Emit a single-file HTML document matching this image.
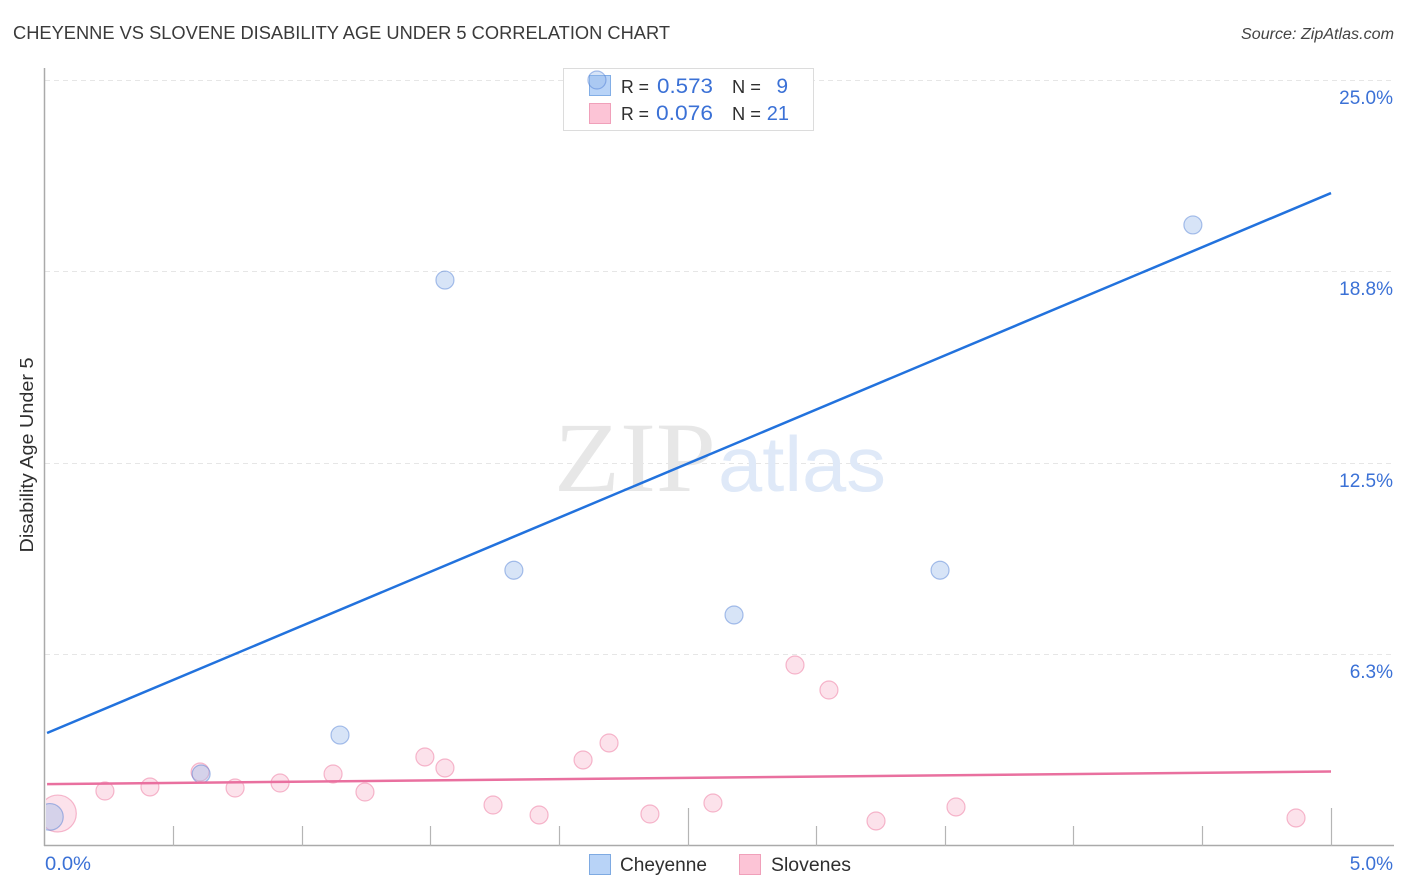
<!DOCTYPE html>
<html>
<head>
<meta charset="utf-8">
<style>
html,body{margin:0;padding:0;background:#fff;width:1406px;height:892px;overflow:hidden}
svg{display:block;font-family:"Liberation Sans",sans-serif}
</style>
</head>
<body>
<svg id="chart" width="1406" height="892" viewBox="0 0 1406 892" xmlns="http://www.w3.org/2000/svg">
  <defs><clipPath id="plot-clip"><rect x="46" y="60" width="1348" height="786"/></clipPath></defs>
  <text x="13" y="39" font-size="18" fill="#3a3a3a" textLength="657" lengthAdjust="spacingAndGlyphs">CHEYENNE VS SLOVENE DISABILITY AGE UNDER 5 CORRELATION CHART</text>
  <text x="1394" y="39" font-size="15.5" font-style="italic" fill="#444" text-anchor="end" textLength="153" lengthAdjust="spacingAndGlyphs">Source: ZipAtlas.com</text>
  <g id="grid"></g>
  <g>
    <text x="554" y="491" font-family="Liberation Serif, serif" font-size="100" fill="#e7e7e7" textLength="162" lengthAdjust="spacingAndGlyphs">ZIP</text>
    <text x="718" y="491" font-size="78" fill="#dfe9f8" textLength="168" lengthAdjust="spacingAndGlyphs">atlas</text>
  </g>
  <g id="axes"></g>
  <text transform="translate(33,455) rotate(-90)" font-size="18" fill="#2f2f2f" text-anchor="middle" textLength="195" lengthAdjust="spacingAndGlyphs">Disability Age Under 5</text>
  <g>
    <rect x="563.5" y="68.5" width="250" height="62" fill="#fff" stroke="#dcdcdc"/>
    <rect x="589.5" y="75.5" width="21" height="20" fill="#b8d3f7" stroke="#82aee6"/>
    <rect x="589.5" y="103.5" width="21" height="20" fill="#fcc4d6" stroke="#f0a0ba"/>
    <text x="621" y="93" font-size="18.5" fill="#2f2f2f" textLength="28" lengthAdjust="spacingAndGlyphs">R =</text>
    <text x="657" y="93" font-size="21" fill="#3b71d6" textLength="56" lengthAdjust="spacingAndGlyphs">0.573</text>
    <text x="732" y="93" font-size="18.5" fill="#2f2f2f" textLength="29" lengthAdjust="spacingAndGlyphs">N =</text>
    <text x="788" y="93" font-size="21" fill="#3b71d6" text-anchor="end">9</text>
    <text x="621" y="120" font-size="18.5" fill="#2f2f2f" textLength="28" lengthAdjust="spacingAndGlyphs">R =</text>
    <text x="656" y="120" font-size="21" fill="#3b71d6" textLength="57" lengthAdjust="spacingAndGlyphs">0.076</text>
    <text x="732" y="120" font-size="18.5" fill="#2f2f2f" textLength="29" lengthAdjust="spacingAndGlyphs">N =</text>
    <text x="789" y="120" font-size="20" fill="#3b71d6" text-anchor="end">21</text>
  </g>
  <g id="marks" clip-path="url(#plot-clip)"></g>
  <g>
    <rect x="589.5" y="854.5" width="21" height="20" fill="#b8d3f7" stroke="#7eaae2"/>
    <text x="620" y="871" font-size="19.5" fill="#2f2f2f" textLength="87" lengthAdjust="spacingAndGlyphs">Cheyenne</text>
    <rect x="739.5" y="854.5" width="21" height="20" fill="#fcc4d6" stroke="#f0a0ba"/>
    <text x="771" y="871" font-size="19.5" fill="#2f2f2f" textLength="80" lengthAdjust="spacingAndGlyphs">Slovenes</text>
  </g>
</svg>
<script>
const yTickValues = [25, 18.75, 12.5, 6.25];
const yTickLabels = ["25.0%", "18.8%", "12.5%", "6.3%"];
const xTickValues = [0.5, 1, 1.5, 2, 2.5, 3, 3.5, 4, 4.5, 5];
const xMajorTicks = [2.5, 5];
const xEndLabels = ["0.0%", "5.0%"];

const cheyenneX = [1.555, 4.463, 1.823, 3.48, 2.679, 1.147, 0.607, 2.146, 0.019];
const cheyenneY = [18.47, 20.27, 9.0, 9.0, 7.54, 3.62, 2.35, 25.0, 0.95];
const cheyenneWeight = [1, 1, 1, 1, 1, 1, 1, 1, 2.2];

const sloveneX = [0.05, 0.233, 0.408, 0.603, 0.739, 0.914, 1.12, 1.244, 1.477, 1.555, 1.742, 1.921, 2.092, 2.193, 2.352, 2.597, 2.916, 3.048, 3.231, 3.542, 4.864];
const sloveneY = [1.06, 1.795, 1.926, 2.415, 1.893, 2.056, 2.35, 1.762, 2.905, 2.546, 1.338, 1.012, 2.807, 3.362, 1.044, 1.403, 5.907, 5.091, 0.816, 1.273, 0.914];
const sloveneWeight = [4.2, 1, 1, 1, 1, 1, 1, 1, 1, 1, 1, 1, 1, 1, 1, 1, 1, 1, 1, 1, 1];

const trendX = [0.008, 5];
const cheyenneTrend = [3.688, 21.31];
const sloveneTrend = [2.02, 2.43];

const NS = "http://www.w3.org/2000/svg";
const xScale = function (v) { return 45 + v * 257.2; };
const yScale = function (v) { return 846 - v * 30.64; };
const radius = function (w) { return 9 * Math.sqrt(w); };

function make(tag, parent, attrs, text) {
  const el = document.createElementNS(NS, tag);
  for (const k in attrs) el.setAttribute(k, attrs[k]);
  if (text !== undefined) el.textContent = text;
  parent.appendChild(el);
  return el;
}

const grid = document.getElementById("grid");
const axes = document.getElementById("axes");
const marks = document.getElementById("marks");

yTickValues.forEach(function (v, i) {
  const y = Math.floor(yScale(v) + 0.001) + 0.5;
  const line = make("line", grid, { x1: 45, x2: 1394, y1: y, y2: y, stroke: "#e6e6e6", "stroke-width": 1, "stroke-dasharray": "5 4" });
  
  
  const label = make("text", axes, { x: 1393, y: y + 23.5, "font-size": 19, fill: "#3b71d6", "text-anchor": "end" }, yTickLabels[i]);
  
  
});

const yAxis = make("line", axes, { x1: 44.5, x2: 44.5, y1: 68, y2: 846, stroke: "#aaaaaa", "stroke-width": 1.5 });


const xAxis = make("line", axes, { x1: 44, x2: 1394, y1: 845.5, y2: 845.5, stroke: "#aaaaaa", "stroke-width": 1.5 });



xTickValues.forEach(function (v) {
  const x = Math.floor(xScale(v)) + 0.5;
  const top = xMajorTicks.indexOf(v) >= 0 ? 808 : 826;
  const tick = make("line", axes, { x1: x, x2: x, y1: top, y2: 846, stroke: "#b5b5b5", "stroke-width": 1.2 });
  
  
});

const xStart = make("text", axes, { x: 45, y: 870, "font-size": 19.5, fill: "#3b71d6", textLength: 46, lengthAdjust: "spacingAndGlyphs" }, xEndLabels[0]);


const xEnd = make("text", axes, { x: 1393, y: 870, "font-size": 19, fill: "#3b71d6", "text-anchor": "end" }, xEndLabels[1]);



sloveneX.forEach(function (v, i) {
  const c = make("circle", marks, { cx: xScale(v), cy: yScale(sloveneY[i]), r: radius(sloveneWeight[i]), fill: "rgba(248,187,208,0.42)", stroke: "rgba(238,130,165,0.55)", "stroke-width": 1.2 });
  
  
});
cheyenneX.forEach(function (v, i) {
  const c = make("circle", marks, { cx: xScale(v), cy: yScale(cheyenneY[i]), r: radius(cheyenneWeight[i]), fill: "rgba(150,185,235,0.38)", stroke: "rgba(70,120,210,0.45)", "stroke-width": 1.2 });
  
  
});

const cheyenneLine = make("line", marks, { x1: xScale(trendX[0]), y1: yScale(cheyenneTrend[0]), x2: xScale(trendX[1]), y2: yScale(cheyenneTrend[1]), stroke: "#2272dd", "stroke-width": 2.5 });


const sloveneLine = make("line", marks, { x1: xScale(trendX[0]), y1: yScale(sloveneTrend[0]), x2: xScale(trendX[1]), y2: yScale(sloveneTrend[1]), stroke: "#e9709f", "stroke-width": 2.5 });


</script>
</body>
</html>
